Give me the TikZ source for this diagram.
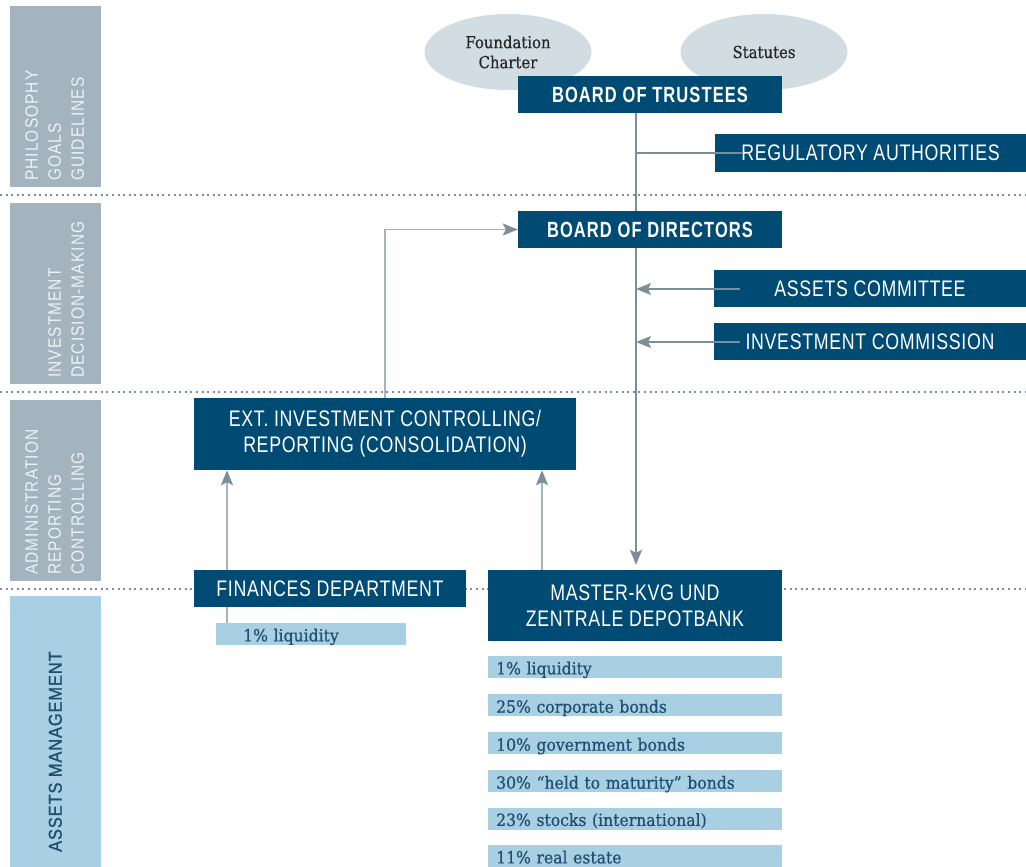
\documentclass[tikz,border=0pt]{standalone}
\usepackage{fontspec}
\usetikzlibrary{shapes.geometric,arrows.meta,backgrounds}
\newfontfamily\condf[FakeStretch=0.79,LetterSpace=3]{Liberation Sans}
\newfontfamily\condbf[FakeStretch=0.75,LetterSpace=5]{Liberation Sans}
\newfontfamily\sidef[FakeStretch=0.86,LetterSpace=6]{Liberation Sans}
\newfontfamily\amf[FakeStretch=0.88,LetterSpace=5,FakeBold=1.2]{Liberation Sans}
\newfontfamily\serf[FakeBold=0.6,FakeStretch=0.93]{DejaVu Serif}
\newfontfamily\eserf[FakeBold=0.5,FakeStretch=0.9]{DejaVu Serif}
\definecolor{dblue}{HTML}{004B74}
\definecolor{bgrey}{HTML}{A3B4BE}
\definecolor{lblue}{HTML}{A9CFE2}
\definecolor{egrey}{HTML}{D2DCE3}
\definecolor{lnd}{HTML}{7B8F9A}
\definecolor{lnl}{HTML}{A3B5BF}
\definecolor{sidetext}{HTML}{EEF2F5}
\definecolor{ltext}{HTML}{1E4E72}
\tikzset{
  band/.style={fill=bgrey, minimum width=91pt, inner sep=0pt, anchor=north west},
  sidetxt/.style={rotate=90, anchor=north west, align=left, inner sep=0pt, text=sidetext,
    font=\sidef\fontsize{18}{23}\selectfont},
  ell/.style={ellipse, fill=egrey, minimum width=167pt, minimum height=76pt, inner sep=0pt,
    align=center, text=black!85, font=\eserf\fontsize{16.5}{20}\selectfont},
  dbox/.style={fill=dblue, text=white, inner sep=0pt, align=center,
    font=\condf\fontsize{22.5}{26}\selectfont},
  dboxb/.style={dbox, font=\condbf\bfseries\fontsize{22}{26}\selectfont},
  lbox/.style={fill=lblue, anchor=west, inner xsep=8pt, inner ysep=0pt, minimum height=22pt,
    text width=278pt, align=left, text height=14.8pt, text depth=0pt, text=ltext,
    font=\serf\fontsize{16.8}{18}\selectfont},
  dotline/.style={draw=lnd, line width=2pt, dash pattern=on 2pt off 3.6pt},
  spl/.style={draw=lnd, line width=1.4pt},
  upl/.style={draw=lnl, line width=1.6pt},
  arr/.style={-{Stealth[length=15pt,width=12pt,inset=3pt,fill=lnd,color=lnd]}}
}
\begin{document}
\begin{tikzpicture}[x=1pt,y=-1pt]
\useasboundingbox (0,0) rectangle (1026,867);
% sidebar
\node[band, minimum height=181pt] (b1) at (10,6) {};
\node[band, minimum height=181pt] (b2) at (10,203) {};
\node[band, minimum height=181pt] (b3) at (10,400) {};
\node[band, fill=lblue, minimum height=271pt] (b4) at (10,596) {};
\node[sidetxt] (t1) at (25,181) {PHILOSOPHY\\GOALS\\GUIDELINES};
\node[sidetxt] (t2) at (48,378) {INVESTMENT\\DECISION-MAKING};
\node[sidetxt] (t3) at (25,575) {ADMINISTRATION\\REPORTING\\CONTROLLING};
\node[sidetxt, text=ltext, font=\amf\fontsize{18.6}{23}\selectfont] (t4) at (48.5,852) {ASSETS MANAGEMENT};
% ellipses
\node[ell] (fc) at (508,52) {Foundation\\Charter};
\node[ell] (st) at (764,52) {Statutes};
% boxes
\node[dboxb, minimum width=264pt, minimum height=37pt] (bot) at (650,94.5) {BOARD OF TRUSTEES};
\node[dbox, minimum width=311pt, minimum height=38pt] (reg) at (870.5,153) {REGULATORY AUTHORITIES};
\node[dboxb, minimum width=264pt, minimum height=37pt] (bod) at (650,229.5) {BOARD OF DIRECTORS};
\node[dbox, minimum width=312pt, minimum height=37pt] (ac) at (870,288.5) {ASSETS COMMITTEE};
\node[dbox, minimum width=312pt, minimum height=37pt] (ic) at (870,341.5) {INVESTMENT COMMISSION};
\node[dbox, minimum width=382pt, minimum height=72pt] (ext) at (385,434) {EXT. INVESTMENT CONTROLLING/\\REPORTING (CONSOLIDATION)};
\node[dbox, minimum width=272pt, minimum height=37pt] (fin) at (330,588.5) {FINANCES DEPARTMENT};
\node[lbox, inner xsep=27pt, text width=136pt] (liq) at (216,634) {1\% liquidity};
\node[dbox, minimum width=294pt, minimum height=71pt] (mkvg) at (635,605.5) {MASTER-KVG UND\\ZENTRALE DEPOTBANK};
% list
\node[lbox] (p1) at (488,667) {1\% liquidity};
\node[lbox] (p2) at (488,705.3) {25\% corporate bonds};
\node[lbox] (p3) at (488,743.3) {10\% government bonds};
\node[lbox] (p4) at (488,781.3) {30\% “held to maturity” bonds};
\node[lbox] (p5) at (488,818.5) {23\% stocks (international)};
\node[lbox] (p6) at (488,856) {11\% real estate};
% coordinates
\coordinate (sp) at (636,0);
\coordinate (xa) at (385,0);
\coordinate (xb) at (227,0);
\coordinate (xc) at (542,0);
\coordinate (d1a) at (0,195); \coordinate (d1b) at (1026,195);
\coordinate (d2a) at (0,392); \coordinate (d2b) at (1026,392);
\coordinate (d3a) at (0,589); \coordinate (d3b) at (1026,589);
\coordinate (rege) at (742,153);
\coordinate (ace) at (740,289);
\coordinate (ice) at (740,342);
\begin{pgfonlayer}{background}
\draw[dotline] (d1a) -- (d1b);
\draw[dotline] (d2a) -- (d2b);
\draw[dotline] (d3a) -- (d3b);
\draw[spl, arr, shorten >=5pt] (bot.south -| sp) -- (mkvg.north -| sp);
\draw[upl, arr] (ext.north -| xa) |- (bod.west);
\draw[upl, arr] (liq.north -| xb) -- (ext.south -| xb);
\draw[upl, arr] (mkvg.north -| xc) -- (ext.south -| xc);
\end{pgfonlayer}
\draw[spl] (rege) -- (rege -| sp);
\draw[spl, arr] (ace) -- (ace -| sp);
\draw[spl, arr] (ice) -- (ice -| sp);
\end{tikzpicture}
\end{document}
